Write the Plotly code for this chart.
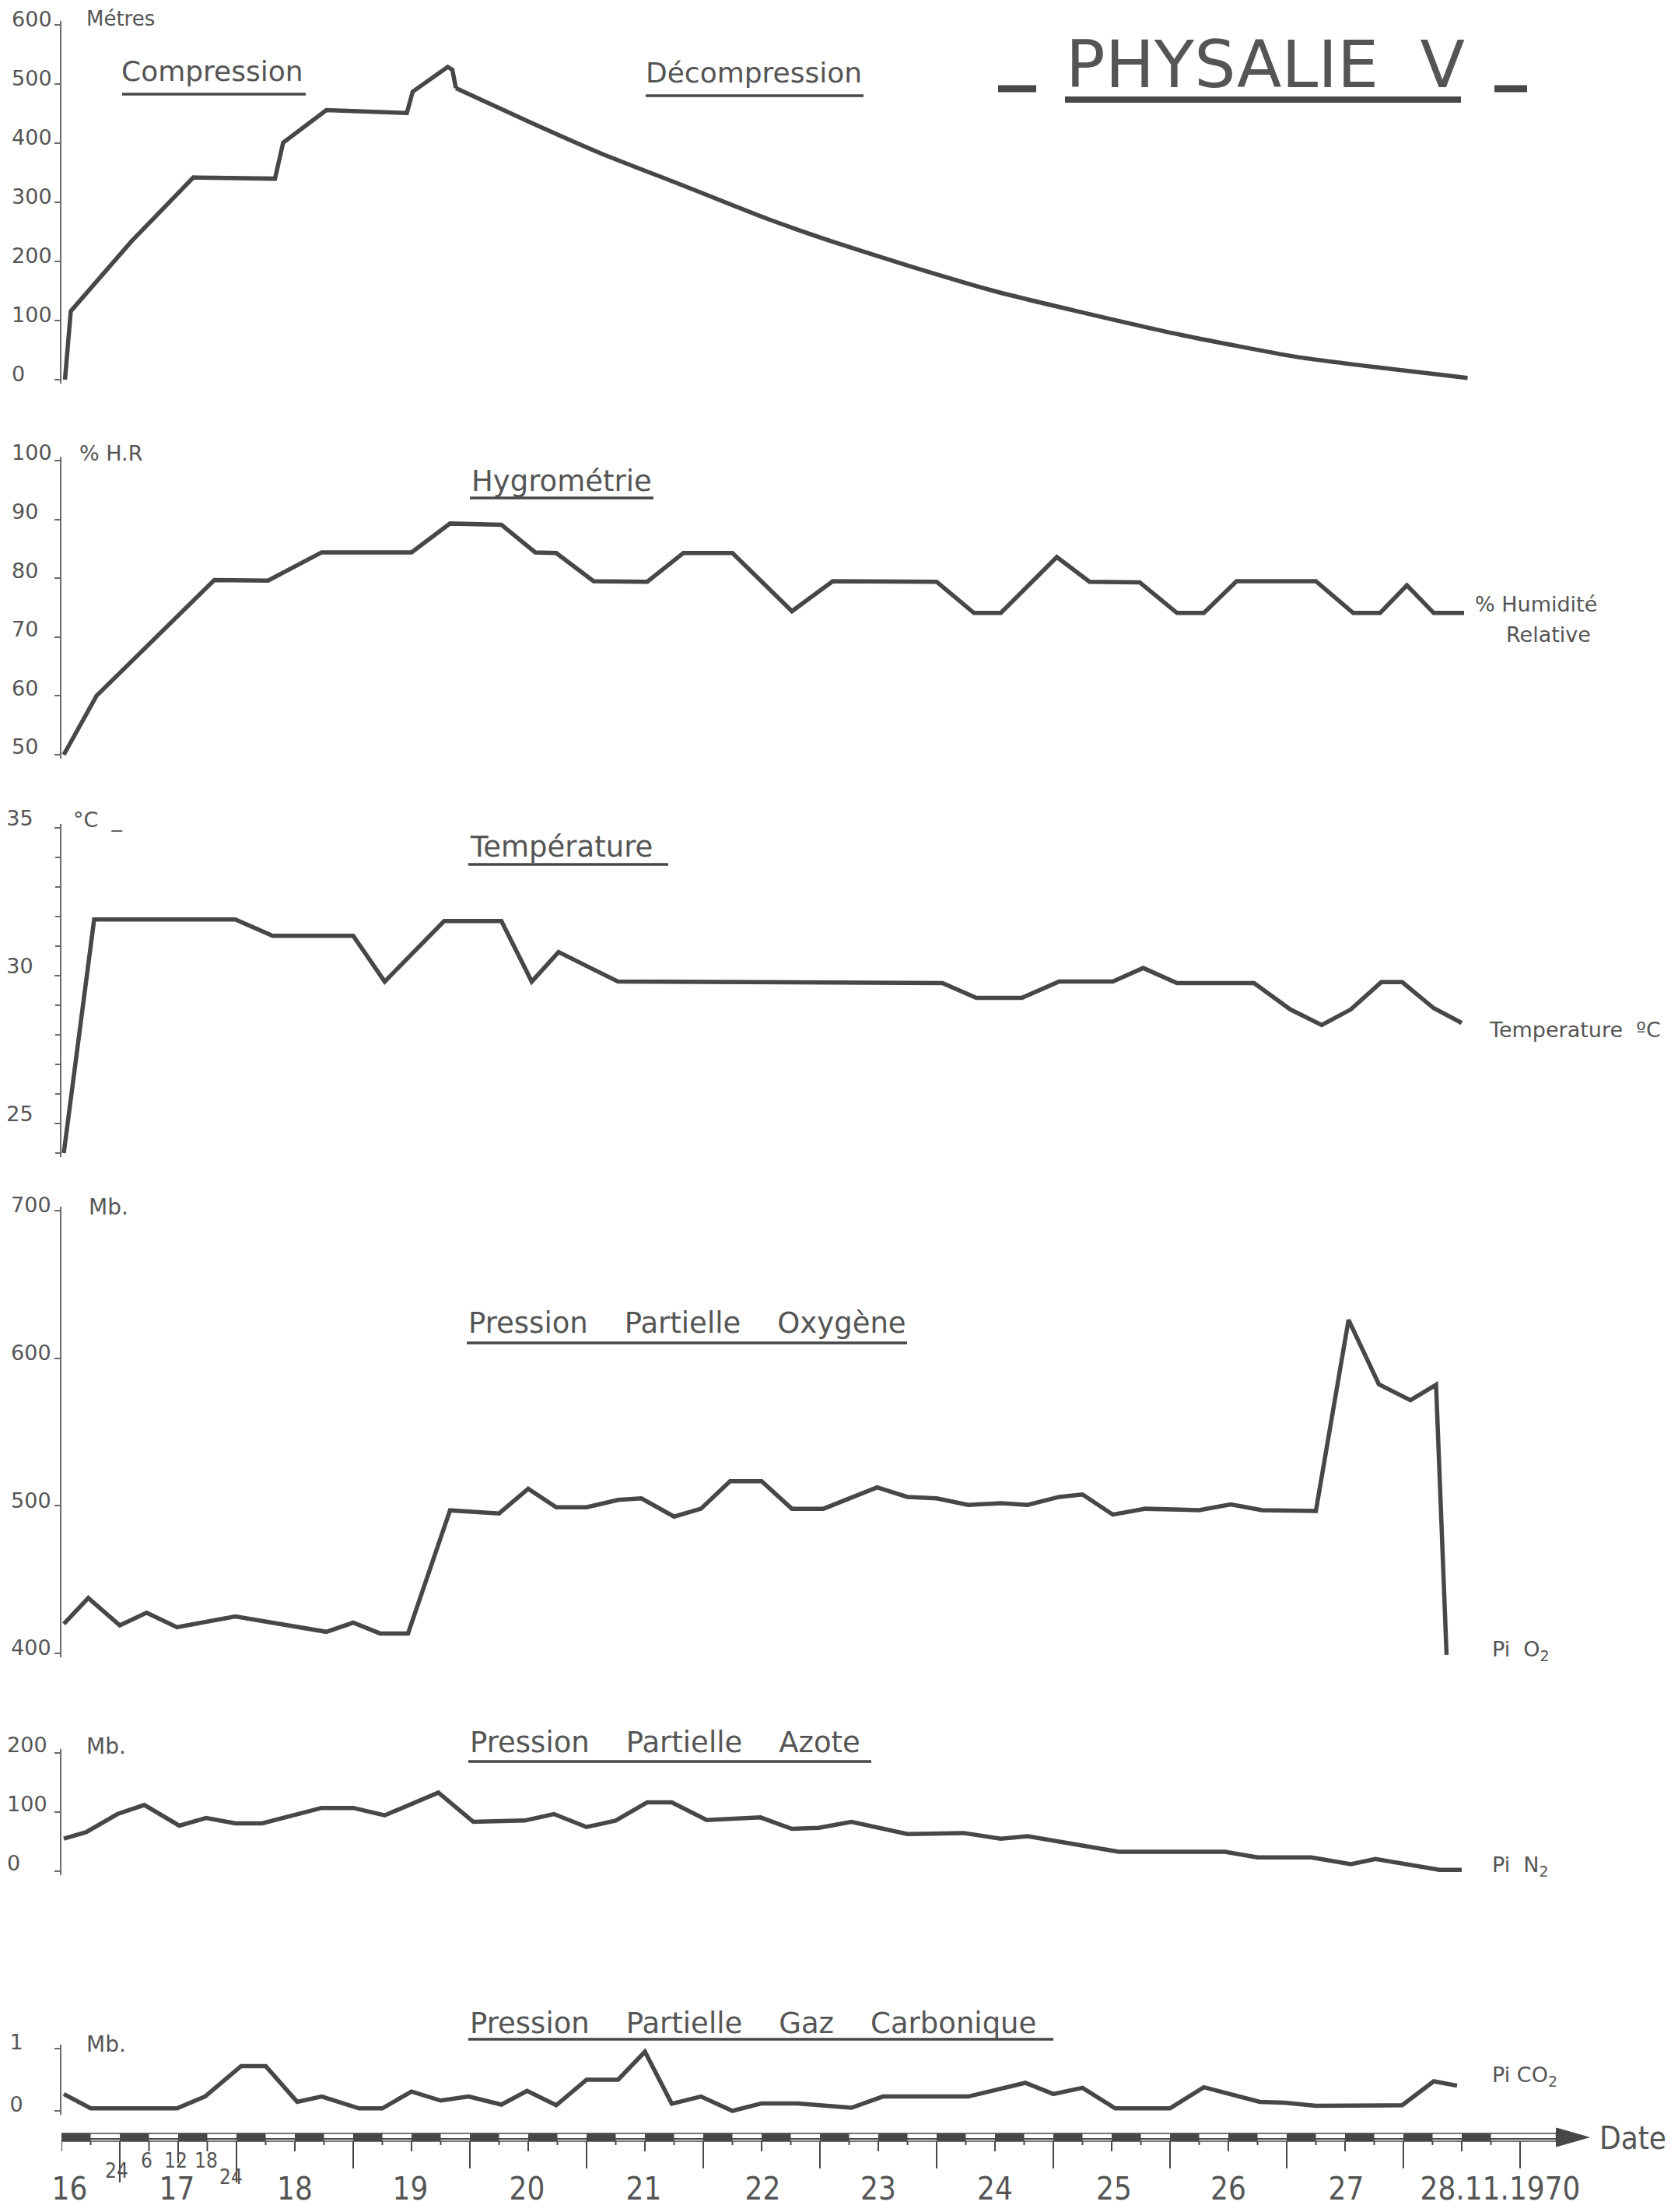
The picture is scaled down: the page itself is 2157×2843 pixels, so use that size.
import plotly.graph_objects as go

# ---------------- data ----------------
# Profondeur (Métres)
depth_comp_day = [16.53, 16.58, 17.10, 17.63, 18.33, 18.40, 18.77, 19.46, 19.51, 19.81, 19.85, 19.88]
depth_comp_m = [0, 116, 234, 342, 340, 401, 456, 451, 487, 529, 524, 493]
depth_decomp_day = [19.88, 20.51, 21.12, 21.82, 22.55, 23.13, 23.77, 24.51, 25.20, 26.09, 27.07, 27.81, 28.55]
depth_decomp_m = [493, 436, 383, 329, 272, 232, 192, 149, 116, 76, 39, 20, 3]

# Hygrométrie (% H.R)
hyg_day = [16.52, 16.80, 17.81, 18.27, 18.73, 19.50, 19.83, 20.27, 20.56, 20.74, 21.06, 21.52, 21.83,
           22.25, 22.76, 23.11, 24.00, 24.32, 24.55, 25.03, 25.31, 25.74, 26.06, 26.29, 26.57, 27.25,
           27.57, 27.80, 28.03, 28.26, 28.52]
hyg_val = [50, 60, 79.7, 79.6, 84.4, 84.4, 89.3, 89.1, 84.4, 84.3, 79.5, 79.4, 84.3,
           84.3, 74.4, 79.5, 79.4, 74.1, 74.1, 83.6, 79.4, 79.3, 74.1, 74.1, 79.5, 79.5,
           74.1, 74.1, 78.8, 74.1, 74.1]

# Température (°C)
tmp_day = [16.52, 16.78, 17.99, 18.31, 19.00, 19.27, 19.78, 20.27, 20.53, 20.76, 21.27, 24.05, 24.34,
           24.73, 25.05, 25.51, 25.77, 26.06, 26.72, 27.03, 27.30, 27.55, 27.81, 27.99, 28.26, 28.50]
tmp_val = [24.0, 31.9, 31.9, 31.35, 31.35, 29.8, 31.85, 31.85, 29.8, 30.8, 29.8, 29.75, 29.25,
           29.25, 29.8, 29.8, 30.26, 29.75, 29.75, 28.86, 28.33, 28.86, 29.78, 29.78, 28.9, 28.4]

# Pression partielle oxygène (Mb)
o2_day = [16.52, 16.73, 17.00, 17.23, 17.49, 17.99, 18.77, 19.00, 19.23, 19.47, 19.83, 20.25, 20.50,
          20.74, 21.00, 21.27, 21.47, 21.75, 21.98, 22.23, 22.50, 22.76, 23.03, 23.49, 23.75, 24.00,
          24.27, 24.55, 24.78, 25.05, 25.25, 25.51, 25.79, 26.25, 26.52, 26.79, 27.25, 27.53, 27.79,
          28.06, 28.28, 28.37]
o2_val = [420, 437.5, 419, 427.5, 417.7, 425, 414.6, 420.8, 413.5, 413.5, 496.9, 494.8, 511.5,
          499, 499, 504, 505, 492.7, 498, 516.7, 516.7, 498, 498, 512.5, 506, 505,
          500.6, 501.7, 500.6, 506, 507.7, 494, 498, 497, 501, 497, 496.5, 626, 582.3,
          571.5, 582, 399]

# Pression partielle azote (Mb)
n2_day = [16.52, 16.71, 16.98, 17.21, 17.51, 17.74, 17.99, 18.22, 18.73, 19.00, 19.27, 19.73, 20.03,
          20.47, 20.72, 21.00, 21.25, 21.52, 21.73, 22.03, 22.49, 22.76, 22.99, 23.27, 23.75, 24.23,
          24.55, 24.78, 25.56, 26.47, 26.75, 27.21, 27.55, 27.76, 28.31, 28.50]
n2_val = [55, 66, 96.7, 112, 77, 90, 81, 81, 107, 107, 94.5, 133, 83.5,
          85.7, 96.7, 74.7, 85.7, 116.5, 116.5, 86.6, 91, 71.6, 73.4, 83.5, 62.9, 64.6,
          55, 59.3, 33, 33, 23.3, 23.3, 11.9, 20.7, 2.2, 2.2]

# Pression partielle gaz carbonique (Mb)
co2_day = [16.52, 16.75, 17.49, 17.73, 18.04, 18.25, 18.52, 18.73, 19.05, 19.25, 19.50, 19.75, 19.99,
           20.27, 20.49, 20.74, 21.00, 21.27, 21.50, 21.73, 21.98, 22.25, 22.50, 22.81, 23.27, 23.54,
           24.27, 24.76, 25.00, 25.25, 25.53, 26.00, 26.29, 26.77, 26.98, 27.25, 27.99, 28.26, 28.46]
co2_val = [0.27, 0.04, 0.04, 0.23, 0.72, 0.72, 0.145, 0.23, 0.04, 0.04, 0.31, 0.165, 0.23,
           0.10, 0.32, 0.09, 0.50, 0.50, 0.95, 0.115, 0.23, 0.0, 0.12, 0.12, 0.05, 0.23,
           0.23, 0.45, 0.27, 0.37, 0.04, 0.04, 0.38, 0.145, 0.13, 0.08, 0.09, 0.475, 0.405]

# date axis labels
day_labels = ["16", "17", "18", "19", "20", "21", "22", "23", "24", "25", "26", "27", "28.11.1970"]
day_label_pos = [16.57, 17.49, 18.5, 19.49, 20.49, 21.49, 22.51, 23.5, 24.5, 25.52, 26.5, 27.51, 28.83]
hour_labels = ["24", "6", "12", "18", "24"]
hour_label_pos = [16.97, 17.23, 17.48, 17.74, 17.95]

# y tick labels per panel
depth_ticks = [0, 100, 200, 300, 400, 500, 600]
hyg_ticks = [50, 60, 70, 80, 90, 100]
tmp_ticks = [25, 30, 35]
tmp_minor = [24, 25, 26, 27, 28, 29, 30, 31, 32, 33, 34, 35]
o2_ticks = [400, 500, 600, 700]
n2_ticks = [0, 100, 200]
co2_ticks = [0, 1]

# ---------------- page geometry ----------------
# page pixels (2157 x 2843); the figure sits inside the page's default 8 px body margin
WP, HP = 2157, 2843
OFF = 8
W, H = WP - 2 * OFF, HP - 2 * OFF
LEFTP = 79                      # page x of the vertical axes
LEFT = LEFTP - OFF              # figure left margin
PX_PER_DAY = 150.0
X0 = 16.5
XR = [X0, X0 + (W - LEFT) / PX_PER_DAY]

INK = "#474747"
TXT = "#555555"
AXC = "#6a6a6a"
FONT = "DejaVu Sans, Verdana, sans-serif"
CFONT = "DejaVu Sans Condensed, Liberation Sans Narrow, DejaVu Sans, sans-serif"


def ax(px):
    return (px - LEFTP) / (W - LEFT)


def ay(py):
    return 1 - (py - OFF) / H


fig = go.Figure()

LW = 5.5
series = [
    (depth_comp_day, depth_comp_m, "y", "linear"),
    (depth_decomp_day, depth_decomp_m, "y", "spline"),
    (hyg_day, hyg_val, "y2", "linear"),
    (tmp_day, tmp_val, "y3", "linear"),
    (o2_day, o2_val, "y4", "linear"),
    (n2_day, n2_val, "y5", "linear"),
    (co2_day, co2_val, "y6", "linear"),
]
for xs, ys, yax, shp in series:
    fig.add_trace(go.Scatter(x=xs, y=ys, xaxis="x", yaxis=yax, mode="lines",
                             line=dict(color=INK, width=LW, shape=shp, smoothing=0.6),
                             showlegend=False, hoverinfo="skip"))


def pad_ticks(vals):
    txt = [str(v) for v in vals]
    n = max(len(t) for t in txt)
    return [t + "\u2007" * (n - len(t)) for t in txt]


# (value_bottom, px_bottom, value_top, px_top, tickvals, standoff, label shift)
panels = [
    (0, 488, 600, 32, depth_ticks, -2, -7),
    (50, 970, 100, 592, hyg_ticks, -2, -10),
    (24, 1482, 35, 1064, tmp_ticks, 22, -12),
    (400, 2125, 700, 1556, o2_ticks, -1, -7),
    (0, 2405, 200, 2253, n2_ticks, 4, -10),
    (0, 2713, 1, 2633, co2_ticks, 35, -8),
]
PAD = 5
layout_axes = {}
for i, (v0, p0, v1, p1, tv, so, sh) in enumerate(panels):
    s = (p0 - p1) / (v1 - v0)
    dv = PAD / s
    name = "yaxis" if i == 0 else f"yaxis{i + 1}"
    axd = dict(domain=[ay(p0 + PAD), ay(p1 - PAD)], range=[v0 - dv, v1 + dv], anchor="x",
               automargin=False, ticklabeloverflow="allow",
               showline=True, linecolor=AXC, linewidth=2, showgrid=False, zeroline=False,
               ticks="outside", ticklen=7, tickwidth=2, tickcolor=AXC,
               tickmode="array", tickvals=tv, ticktext=pad_ticks(tv),
               tickfont=dict(family=FONT, size=27, color=TXT),
               ticklabelstandoff=so, ticklabelshift=sh)
    if i == 2:
        axd["minor"] = dict(tickmode="array", tickvals=tmp_minor, ticks="outside",
                            ticklen=6, tickwidth=2, tickcolor=AXC)
    layout_axes[name] = axd

fig.update_layout(**layout_axes)
fig.update_layout(
    template="none",
    xaxis=dict(domain=[0, 1], range=XR, anchor="free", position=ay(2752), automargin=False,
               ticklabeloverflow="allow",
               showline=False, showgrid=False, zeroline=False, ticks="",
               tickmode="array", tickvals=day_label_pos, ticktext=day_labels,
               tickfont=dict(family=CFONT, size=40, color=TXT), ticklabelstandoff=34),
    width=W, height=H, autosize=False,
    margin=dict(l=LEFT, r=0, t=0, b=0, pad=0),
    paper_bgcolor="white", plot_bgcolor="white",
)

shapes = []


def pline(x0, x1, ypx, w, color=INK):
    shapes.append(dict(type="line", xref="paper", yref="paper", x0=ax(x0), x1=ax(x1),
                       y0=ay(ypx), y1=ay(ypx), line=dict(color=color, width=w)))


# ---- date axis bar ----
BAR_TOP, BAR_BOT = 2742, 2752
X_END_PATTERN = 29.0
X_BAR_END = 29.31
shapes.append(dict(type="line", xref="x", yref="paper", x0=X0, x1=X_BAR_END,
                   y0=ay(2749), y1=ay(2749), line=dict(color=INK, width=2)))
shapes.append(dict(type="rect", xref="x", yref="paper", x0=X0, x1=X_BAR_END,
                   y0=ay(BAR_BOT), y1=ay(BAR_TOP), line=dict(color=INK, width=1.5)))
q = X0
while q < X_END_PATTERN - 1e-9:
    k = int(round(q * 4)) % 4
    if k in (0, 2):
        shapes.append(dict(type="rect", xref="x", yref="paper", x0=q, x1=q + 0.25,
                           y0=ay(BAR_BOT), y1=ay(BAR_TOP), fillcolor=INK, line=dict(width=0)))
    q += 0.25
shapes.append(dict(type="path", xref="x", yref="paper",
                   path=f"M {X_BAR_END},{ay(2735)} L 29.59,{ay(2747)} L {X_BAR_END},{ay(2759)} Z",
                   fillcolor=INK, line=dict(color=INK, width=1)))
q = X0
while q <= X_END_PATTERN + 1e-9:
    k = int(round(q * 4)) % 4
    if 16.99 < q < 18.01:
        ln = 53 if k == 0 else (28 if k == 2 else 13)
    else:
        ln = 35 if k == 0 else (13 if k == 2 else 5)
    shapes.append(dict(type="line", xref="x", yref="paper", x0=q, x1=q,
                       y0=ay(BAR_BOT), y1=ay(BAR_BOT + ln), line=dict(color=INK, width=2)))
    q += 0.25

# ---- underlines and title dashes ----
pline(1369, 1878, 128, 8)
pline(1283, 1332, 114, 9)
pline(1921, 1963, 114, 9)
pline(157, 393, 121, 3.5)
pline(830, 1110, 123, 3.5)
pline(604, 840, 640, 3.5)
pline(602, 859, 1111, 3.5)
pline(600, 1166, 1726, 3.5)
pline(602, 1120, 2264, 3.5)
pline(602, 1354, 2621, 3.5)

fig.update_layout(shapes=shapes)

ann = []


def txt(s, xpx, ypx, size, anchor="left", family=FONT, color=TXT):
    ann.append(dict(text=s, xref="paper", yref="paper", x=ax(xpx), y=ay(ypx),
                    xanchor=anchor, yanchor="middle", showarrow=False,
                    font=dict(family=family, size=size, color=color)))


NB = "\u00a0"
txt("PHYSALIE" + NB * 2 + "V", 1626, 83, 84, "center")
txt("Compression", 154, 91, 36)
txt("Décompression", 828, 94, 36)
txt("Hygrométrie", 604, 618, 37)
txt("Température", 602, 1089, 37)
txt("Pression" + NB * 4 + "Partielle" + NB * 4 + "Oxygène", 600, 1700, 37)
txt("Pression" + NB * 4 + "Partielle" + NB * 4 + "Azote", 602, 2239, 37)
txt("Pression" + NB * 4 + "Partielle" + NB * 4 + "Gaz" + NB * 4 + "Carbonique", 602, 2600, 37)

txt("Métres", 109, 24, 26)
txt("%" + NB + "H.R", 100, 582, 27)
txt("°C" + NB * 2 + "_", 92, 1053, 27)
txt("Mb.", 112, 1551, 28)
txt("Mb.", 109, 2244, 28)
txt("Mb.", 109, 2627, 28)

txt("%" + NB + "Humidité", 1894, 776, 27)
txt("Relative", 1934, 816, 27)
txt("Temperature" + NB * 2 + "ºC", 1912, 1323, 27)
txt("Pi" + NB * 2 + "O<sub>2</sub>", 1916, 2121, 27)
txt("Pi" + NB * 2 + "N<sub>2</sub>", 1916, 2398, 27)
txt("Pi" + NB + "CO<sub>2</sub>", 1916, 2668, 27)
txt("Date", 2054, 2748, 40, family=CFONT)

for s, xp in zip(hour_labels, hour_label_pos):
    ypx = 2777 if s in ("6", "12", "18") else (2790 if xp < 17.5 else 2798)
    ann.append(dict(text=s, xref="x", yref="paper", x=xp, y=ay(ypx), xanchor="center",
                    yanchor="middle", showarrow=False,
                    font=dict(family=CFONT, size=26, color=TXT)))

fig.update_layout(annotations=ann)
fig.write_html("out.html")
